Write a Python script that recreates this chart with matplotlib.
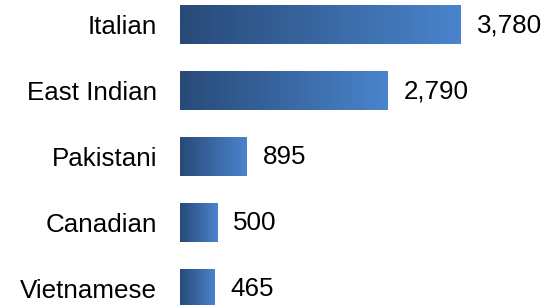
import matplotlib

matplotlib.use("Agg")

import matplotlib.pyplot as plt
import numpy as np
from matplotlib.colors import LinearSegmentedColormap

categories = ["Italian", "East Indian", "Pakistani", "Canadian", "Vietnamese"]
values = [3780, 2790, 895, 500, 465]
value_labels = ["3,780", "2,790", "895", "500", "465"]

plt.rcParams["font.family"] = ["Liberation Sans", "DejaVu Sans"]

fig = plt.figure(figsize=(5.58, 3.05), dpi=100)
ax = fig.add_axes([180 / 558, 0, 378 / 558, 1])

cmap = LinearSegmentedColormap.from_list("bar_grad", ["#284a78", "#4a84cc"])
gradient = np.linspace(0, 1, 256).reshape(1, -1)

ypos = np.arange(len(categories))
bar_h = 0.59
bars = ax.barh(ypos, values, height=bar_h, color="none", edgecolor="none")

for bar, y, v, lab in zip(bars, ypos, values, value_labels):
    img = ax.imshow(
        gradient,
        cmap=cmap,
        aspect="auto",
        extent=[0, v, y + bar_h / 2, y - bar_h / 2],
        interpolation="bilinear",
    )
    img.set_clip_path(bar)
    ax.annotate(
        lab,
        xy=(v, y),
        xytext=(11.5, -0.5),
        textcoords="offset points",
        va="center",
        ha="left",
        fontsize=18.7,
        color="#000000",
    )

ax.set_xlim(0, 5087)
ax.set_ylim(4.25, -0.371)
ax.set_yticks(ypos)
ax.set_yticklabels(categories, fontsize=18.7)
ax.tick_params(axis="y", length=0, pad=16.5)
for lbl in ax.get_yticklabels():
    lbl.set_y(lbl.get_position()[1])
ax.set_xticks([])
for side in ax.spines.values():
    side.set_visible(False)

fig.savefig("out.png", dpi=100)
